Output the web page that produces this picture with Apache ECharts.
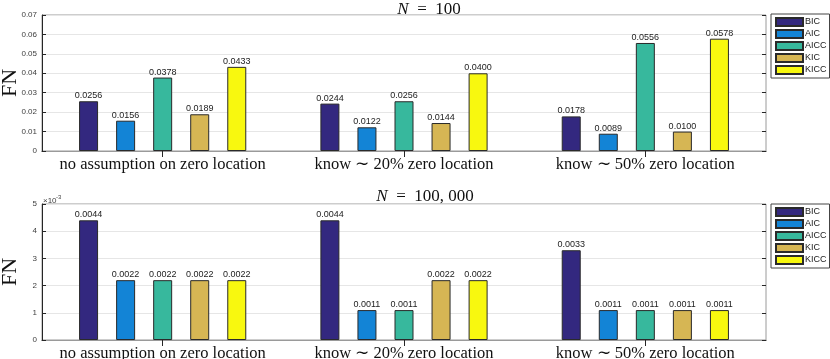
<!DOCTYPE html>
<html>
<head>
<meta charset="utf-8">
<script src="https://cdn.jsdelivr.net/npm/echarts@6/dist/echarts.min.js"></script>
<style>
  html, body { margin: 0; padding: 0; background: #fff; }
  #chart { width: 830px; height: 359px; }
</style>
</head>
<body>
<div id="chart"></div>
<script>
// groups on the x axis
var groups = ['no assumption on zero location', 'know \u223C 20% zero location', 'know \u223C 50% zero location']
var methods = ['BIC', 'AIC', 'AICC', 'KIC', 'KICC']
var colors = ['#33287f', '#1384d6', '#37b89d', '#d6b654', '#f8f80f']

// N = 100
var top_BIC  = [0.0256, 0.0244, 0.0178]
var top_AIC  = [0.0156, 0.0122, 0.0089]
var top_AICC = [0.0378, 0.0256, 0.0556]
var top_KIC  = [0.0189, 0.0144, 0.0100]
var top_KICC = [0.0433, 0.0400, 0.0578]

// N = 100,000
var bot_BIC  = [0.0044, 0.0044, 0.0033]
var bot_AIC  = [0.0022, 0.0011, 0.0011]
var bot_AICC = [0.0022, 0.0011, 0.0011]
var bot_KIC  = [0.0022, 0.0022, 0.0011]
var bot_KICC = [0.0022, 0.0022, 0.0011]

var topData = [top_BIC, top_AIC, top_AICC, top_KIC, top_KICC]
var botData = [bot_BIC, bot_AIC, bot_AICC, bot_KIC, bot_KICC]

var chart = echarts.init(document.getElementById('chart'))

var tickFont = { fontFamily: 'Liberation Sans', fontSize: 8, color: '#404040' }

function mkSeries(data, gi) {
    return methods.map(function (m, i) {
        return {
            name: m,
            type: 'bar',
            xAxisIndex: gi * 2,
            yAxisIndex: gi * 2,
            data: data[i],
            barWidth: 19,
            barGap: '95%',
            itemStyle: { color: colors[i], borderColor: '#2a2a2a', borderWidth: 1 },
            label: {
                show: true,
                position: 'top',
                distance: 1,
                fontFamily: 'Liberation Sans',
                fontSize: 9,
                color: '#222',
                formatter: function (p) { return p.value.toFixed(4) }
            }
        }
    })
}

function xBottom(gi) {
    return {
        type: 'category', gridIndex: gi, data: groups, position: 'bottom',
        axisLine: { lineStyle: { color: '#262626' } },
        axisTick: { show: false },
        axisLabel: { interval: 0, fontFamily: 'Liberation Serif', fontSize: 16.5, color: '#111', margin: 5 }
    }
}
function xTop(gi) {
    return {
        type: 'category', gridIndex: gi, data: groups, position: 'top',
        axisLine: { show: true, lineStyle: { color: '#9a9a9a' } },
        axisTick: { show: true, inside: true, alignWithLabel: true, length: 6, lineStyle: { color: '#262626' } },
        axisLabel: { show: false }
    }
}

function legendFor(top) {
    return {
        data: methods, orient: 'vertical', left: 771, top: top, icon: 'rect',
        itemWidth: 27, itemHeight: 8, itemGap: 2, padding: [3, 3, 3, 4],
        borderColor: '#444', borderWidth: 1, backgroundColor: '#fff',
        textStyle: { fontFamily: 'Liberation Sans', fontSize: 9, color: '#222', padding: [0, 0, 0, -3] }
    }
}

var titleStyle = {
    fontFamily: 'Liberation Serif', fontSize: 17, fontWeight: 'normal', color: '#111',
    rich: { i: { fontFamily: 'Liberation Serif', fontStyle: 'italic', fontSize: 17, color: '#111' } }
}

var fnStyle = { fontFamily: 'Liberation Serif', fontSize: 22, color: '#111' }

var option = {
    animation: false,
    title: [
        { text: '{i|N}  =  100', left: 424, top: -4, textAlign: 'center', textStyle: titleStyle },
        { text: '{i|N}  =  100, 000', left: 420, top: 183, textAlign: 'center', textStyle: titleStyle }
    ],
    legend: [legendFor(14), legendFor(204)],
    grid: [
        { left: 42, right: 64, top: 15, height: 136, show: true, borderColor: '#9a9a9a', borderWidth: 1, outerBoundsMode: 'none', containLabel: false },
        { left: 42, right: 64, top: 204, height: 136, show: true, borderColor: '#9a9a9a', borderWidth: 1, outerBoundsMode: 'none', containLabel: false }
    ],
    xAxis: [xBottom(0), xTop(0), xBottom(1), xTop(1)],
    yAxis: [
        {
            type: 'value', gridIndex: 0, min: 0, max: 0.07, interval: 0.01,
            name: 'FN', nameLocation: 'middle', nameGap: 21, nameMoveOverlap: false,
            nameTextStyle: fnStyle,
            axisLine: { show: true, lineStyle: { color: '#262626' } },
            axisTick: { show: true, inside: true, length: 4, lineStyle: { color: '#262626' } },
            axisLabel: Object.assign({ margin: 5, formatter: function (v) { return v === 0 ? '0' : v.toFixed(2) } }, tickFont),
            splitLine: { lineStyle: { color: '#e6e6e6' } }
        },
        {
            type: 'value', gridIndex: 0, min: 0, max: 0.07, interval: 0.01, position: 'right',
            axisLine: { show: false },
            axisTick: { show: true, inside: true, length: 4, lineStyle: { color: '#262626' } },
            axisLabel: { show: false }, splitLine: { show: false }
        },
        {
            type: 'value', gridIndex: 1, min: 0, max: 0.005, interval: 0.001,
            name: 'FN', nameLocation: 'middle', nameGap: 21, nameMoveOverlap: false,
            nameTextStyle: fnStyle,
            axisLine: { show: true, lineStyle: { color: '#262626' } },
            axisTick: { show: true, inside: true, length: 4, lineStyle: { color: '#262626' } },
            axisLabel: Object.assign({ margin: 5, formatter: function (v) { return String(Math.round(v * 1000)) } }, tickFont),
            splitLine: { lineStyle: { color: '#e6e6e6' } }
        },
        {
            type: 'value', gridIndex: 1, min: 0, max: 0.005, interval: 0.001, position: 'right',
            axisLine: { show: false },
            axisTick: { show: true, inside: true, length: 4, lineStyle: { color: '#262626' } },
            axisLabel: { show: false }, splitLine: { show: false }
        }
    ],
    graphic: [
        { type: 'text', left: 43, top: 197, style: { text: '\u00D710', fill: '#404040', font: '8px "Liberation Sans"' } },
        { type: 'text', left: 56, top: 194, style: { text: '-3', fill: '#404040', font: '6px "Liberation Sans"' } }
    ],
    series: mkSeries(topData, 0).concat(mkSeries(botData, 1))
}

chart.setOption(option)
</script>
</body>
</html>
